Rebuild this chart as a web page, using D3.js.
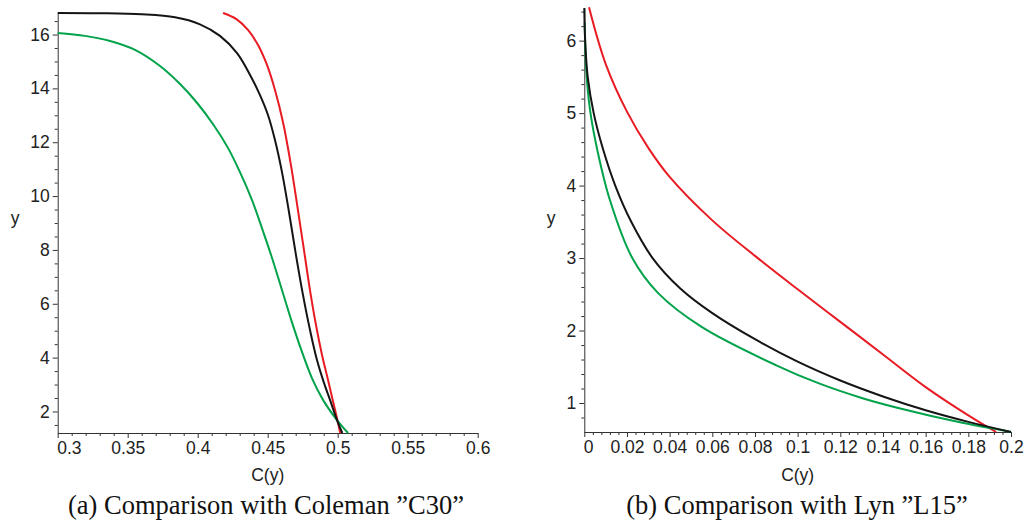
<!DOCTYPE html>
<html lang="en">
<head>
<meta charset="utf-8">
<style>
body { margin: 0; background: #fff; }
svg { display: block; }
.tick text { font-family: "Liberation Sans", Arial, sans-serif; font-size: 17.5px; fill: #222; }
.tick line, .domain { stroke: #333; stroke-width: 1; }
.minor .domain { display: none; }
.minor text { display: none; }
.curve { fill: none; stroke-width: 2; stroke-linejoin: round; }
.alabel { font-family: "Liberation Sans", Arial, sans-serif; font-size: 17.5px; fill: #222; }
.caption { font-family: "Liberation Serif", "Times New Roman", serif; font-size: 26.5px; fill: #111; }
</style>
</head>
<body>
<svg width="1027" height="524"></svg>
<script src="https://cdn.jsdelivr.net/npm/d3@7"></script>
<script>
// panel (a): Coleman C30, points are [C(y), y]
var c30XTicks = [0.3, 0.35, 0.4, 0.45, 0.5, 0.55, 0.6];
var c30YTicks = [2, 4, 6, 8, 10, 12, 14, 16];
var c30Black = [[0.3000,16.80],[0.3302,16.79],[0.3600,16.75],[0.3838,16.64],[0.4016,16.38],[0.4159,15.95],
                [0.4281,15.31],[0.4374,14.50],[0.4445,13.75],[0.4502,13.01],[0.4552,12.08],[0.4602,10.89],
                [0.4652,9.41],[0.4702,7.81],[0.4752,6.33],[0.4802,5.03],[0.4852,3.91],[0.4902,3.06],
                [0.4945,2.43],[0.4995,1.68],[0.5033,1.20]];
var c30Red   = [[0.4181,16.80],[0.4274,16.58],[0.4359,16.17],[0.4431,15.61],[0.4495,14.87],[0.4552,13.94],
                [0.4609,12.75],[0.4666,11.15],[0.4716,9.48],[0.4759,8.00],[0.4802,6.51],[0.4845,5.21],
                [0.4888,4.10],[0.4931,3.17],[0.4963,2.45],[0.4997,1.70],[0.5018,1.20]];
var c30Green = [[0.3000,16.06],[0.3195,15.95],[0.3374,15.76],[0.3552,15.43],[0.3731,14.83],[0.3874,14.16],
                [0.4002,13.42],[0.4116,12.62],[0.4216,11.79],[0.4302,10.89],[0.4388,9.85],[0.4459,8.81],
                [0.4531,7.70],[0.4602,6.51],[0.4673,5.32],[0.4745,4.21],[0.4816,3.24],[0.4895,2.43],
                [0.4995,1.68],[0.5074,1.20]];

// panel (b): Lyn L15
var l15XTicks = [0, 0.02, 0.04, 0.06, 0.08, 0.1, 0.12, 0.14, 0.16, 0.18, 0.2];
var l15YTicks = [1, 2, 3, 4, 5, 6];
var l15Black = [[0,6.45],[0.0004,6.0],[0.0016,5.5],[0.0044,5.0],[0.0088,4.5],[0.0145,4.0],[0.022,3.5],
                [0.032,3.0],[0.045,2.58],[0.06,2.24],[0.08,1.88],[0.1,1.57],[0.12,1.31],[0.14,1.09],
                [0.16,0.90],[0.18,0.74],[0.2,0.60]];
var l15Red   = [[0.0022,6.46],[0.01,5.68],[0.02,5.02],[0.03,4.52],[0.04,4.12],[0.06,3.52],[0.08,3.03],
                [0.1,2.57],[0.12,2.12],[0.14,1.67],[0.16,1.22],[0.18,0.83],[0.193,0.60]];
var l15Green = [[0.0002,6.25],[0.0009,5.6],[0.0027,5.04],[0.0061,4.49],[0.012,3.8],[0.0225,3.0],
                [0.0345,2.52],[0.055,2.05],[0.09,1.52],[0.11,1.27],[0.13,1.07],[0.15,0.91],[0.175,0.74],
                [0.2,0.60]];

var svg = d3.select("svg");

function panel(opt) {
    var x = d3.scaleLinear().domain(opt.xDomain).range(opt.xRange);
    var y = d3.scaleLinear().domain(opt.yDomain).range(opt.yRange);
    var g = svg.append("g");

    // minor ticks
    g.append("g").attr("class", "minor")
        .attr("transform", "translate(0," + opt.yRange[0] + ")")
        .call(d3.axisBottom(x).tickValues(opt.xMinor).tickSize(3).tickSizeOuter(0));
    g.append("g").attr("class", "minor")
        .attr("transform", "translate(" + opt.xRange[0] + ",0)")
        .call(d3.axisLeft(y).tickValues(opt.yMinor).tickSize(3).tickSizeOuter(0));

    var xa = g.append("g")
        .attr("transform", "translate(0," + opt.yRange[0] + ")")
        .call(d3.axisBottom(x).tickValues(opt.xTicks).tickSize(5).tickPadding(4).tickSizeOuter(0)
            .tickFormat(function(d) { return String(+d.toFixed(3)); }));
    // first label sits inside the axis, like Maple does
    xa.selectAll(".tick text").filter(function(d, i) { return i === 0; })
        .attr("text-anchor", "start").attr("x", -1);

    g.append("g")
        .attr("transform", "translate(" + opt.xRange[0] + ",0)")
        .call(d3.axisLeft(y).tickValues(opt.yTicks).tickSize(5).tickPadding(3).tickSizeOuter(0)
            .tickFormat(d3.format("d")));

    var line = d3.line()
        .x(function(d) { return x(d[0]); })
        .y(function(d) { return y(d[1]); })
        .curve(d3.curveCatmullRom.alpha(0.5));

    opt.series.forEach(function(s) {
        g.append("path").attr("class", "curve")
            .attr("stroke", s.color)
            .attr("d", line(s.data));
    });

    var cx = (opt.xRange[0] + opt.xRange[1]) / 2;
    g.append("text").attr("class", "alabel").attr("x", cx).attr("y", 481)
        .attr("text-anchor", "middle").text("C(y)");
    g.append("text").attr("class", "alabel").attr("x", opt.yLabelX).attr("y", 224)
        .attr("text-anchor", "middle").text("y");
    g.append("text").attr("class", "caption").attr("x", opt.capX).attr("y", 514)
        .attr("text-anchor", "middle").text(opt.caption);
}

function steps(a, b, s, majors) {
    var out = [];
    for (var i = 0; a + i * s <= b + 1e-9; i++) {
        var v = +(a + i * s).toFixed(4);
        if (!majors.some(function(m) { return Math.abs(m - v) < 1e-6; })) out.push(v);
    }
    return out;
}

panel({
    xDomain: [0.3, 0.6], xRange: [57.7, 477.7],
    yDomain: [1.2, 16.8], yRange: [433, 13],
    xTicks: c30XTicks, yTicks: c30YTicks,
    xMinor: steps(0.3, 0.6, 0.01, c30XTicks),
    yMinor: steps(1.5, 16.5, 0.5, c30YTicks),
    series: [
        {color: "#e81b23", data: c30Red},
        {color: "#00a24a", data: c30Green},
        {color: "#151515", data: c30Black}
    ],
    yLabelX: 15, capX: 266,
    caption: "(a) Comparison with Coleman \u201DC30\u201D"
});

panel({
    xDomain: [0, 0.2], xRange: [584.3, 1011],
    yDomain: [0.6, 6.45], yRange: [432, 8],
    xTicks: l15XTicks, yTicks: l15YTicks,
    xMinor: steps(0, 0.2, 0.004, l15XTicks),
    yMinor: steps(0.8, 6.4, 0.2, l15YTicks),
    series: [
        {color: "#e81b23", data: l15Red},
        {color: "#00a24a", data: l15Green},
        {color: "#151515", data: l15Black}
    ],
    yLabelX: 551, capX: 797,
    caption: "(b) Comparison with Lyn \u201DL15\u201D"
});
</script>
</body>
</html>
